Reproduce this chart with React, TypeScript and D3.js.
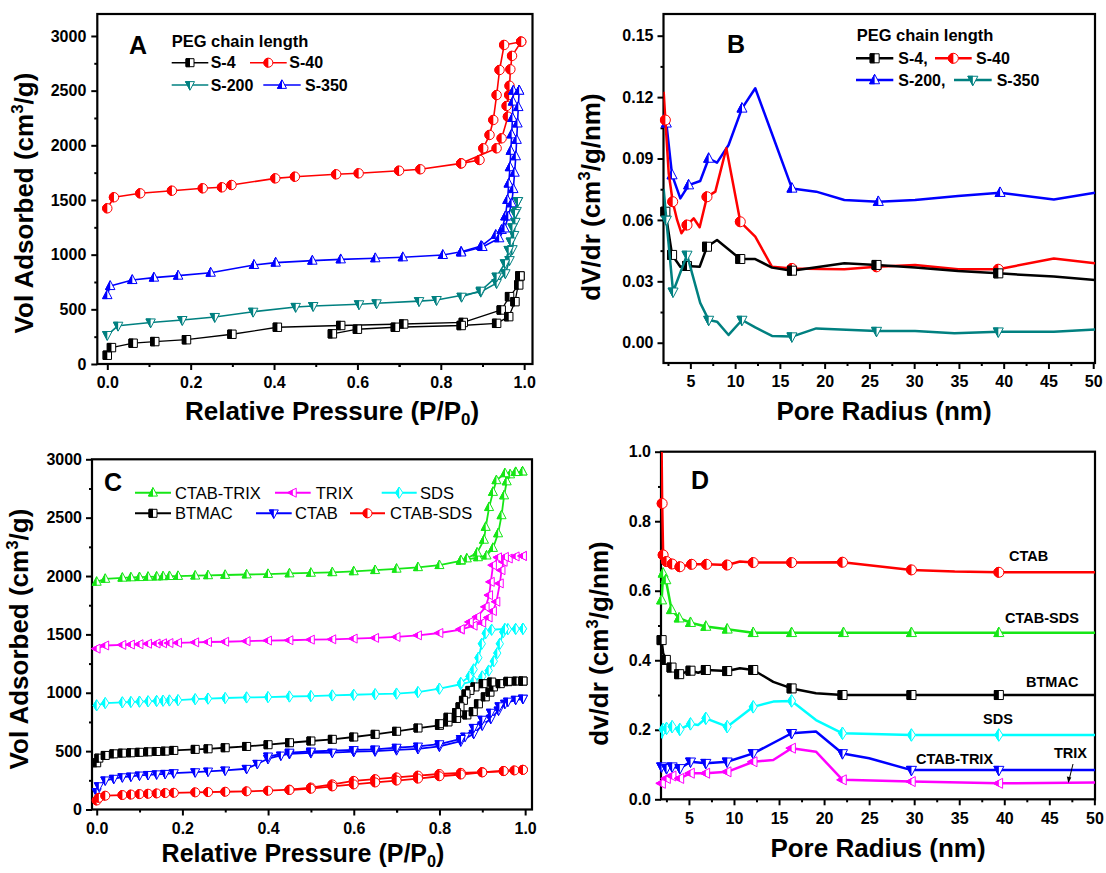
import React, { useEffect, useRef } from "react";
import * as d3 from "d3";

// ---------- Panel A : N2 isotherms, PEG chain length ----------
type P = [number, number];
type M = [number, number, number]; // r, value, 1 = symbol drawn

const s4Ads: P[] = [[0, 80], [0.01, 150], [0.062, 190], [0.114, 205], [0.19, 222], [0.299, 272], [0.408, 336], [0.56, 352], [0.711, 366], [0.854, 380], [0.945, 494], [0.965, 616], [0.987, 723], [0.99, 805]];
const s4Des: P[] = [[0.99, 805], [0.978, 570], [0.963, 433], [0.934, 372], [0.849, 352], [0.691, 336], [0.6, 318], [0.54, 276]];
const s40Ads: P[] = [[0, 1424], [0.016, 1525], [0.079, 1561], [0.155, 1585], [0.229, 1607], [0.275, 1616], [0.298, 1637], [0.403, 1698], [0.45, 1713], [0.549, 1735], [0.603, 1744], [0.7, 1768], [0.751, 1781], [0.849, 1835], [0.934, 1973], [0.946, 2064], [0.961, 2262], [0.958, 2360], [0.964, 2460], [0.965, 2545], [0.967, 2695], [0.971, 2818], [0.993, 2948]];
const s40Des: P[] = [[0.993, 2948], [0.952, 2918], [0.941, 2689], [0.934, 2460], [0.926, 2232], [0.917, 2095], [0.902, 1973], [0.893, 1866], [0.849, 1835]];
const s200Ads: P[] = [[0, 265], [0.026, 350], [0.104, 380], [0.18, 402], [0.258, 430], [0.35, 478], [0.452, 522], [0.494, 530], [0.604, 546], [0.646, 555], [0.748, 575], [0.79, 585], [0.896, 661], [0.934, 740], [0.955, 830], [0.965, 950], [0.972, 1050], [0.976, 1180], [0.979, 1300], [0.982, 1400], [0.985, 1490]];
const s200Des: P[] = [[0.985, 1490], [0.978, 1380], [0.972, 1250], [0.968, 1120], [0.963, 1043], [0.954, 921], [0.934, 799], [0.896, 670], [0.85, 615]];
const s350Ads: P[] = [[0, 630], [0.007, 713], [0.06, 768], [0.112, 790], [0.17, 808], [0.248, 835], [0.352, 906], [0.404, 927], [0.492, 945], [0.56, 957], [0.643, 967], [0.709, 976], [0.805, 997], [0.849, 1027], [0.897, 1079], [0.932, 1180], [0.946, 1226], [0.955, 1350], [0.96, 1500], [0.963, 1650], [0.966, 1800], [0.968, 1950], [0.97, 2100], [0.972, 2250], [0.973, 2400], [0.974, 2500], [0.988, 2500]];
const s350Des: P[] = [[0.988, 2500], [0.986, 2350], [0.984, 2200], [0.982, 2050], [0.98, 1900], [0.977, 1750], [0.974, 1600], [0.97, 1470], [0.962, 1350], [0.953, 1240], [0.94, 1150], [0.9, 1070], [0.849, 1020]];

// ---------- Panel B : pore size distribution, PEG ----------
const bS4: M[] = [[2.02, 0.066, 0], [2.21, 0.064, 1], [2.96, 0.0429, 1], [3.88, 0.0371, 0], [4.63, 0.0375, 1], [6.04, 0.0371, 0], [6.86, 0.0469, 1], [7.98, 0.0502, 0], [10.58, 0.0409, 1], [12.25, 0.0409, 0], [14.12, 0.0367, 0], [16.35, 0.0352, 1], [22.2, 0.0388, 0], [25.8, 0.038, 1], [30.1, 0.0367, 0], [34.9, 0.035, 0], [39.4, 0.0339, 1], [45.6, 0.0323, 0], [50.2, 0.0306, 0]];
const bS40: M[] = [[2.02, 0.1226, 0], [2.21, 0.1088, 1], [2.58, 0.0828, 0], [3.03, 0.0689, 1], [3.52, 0.06, 0], [4.0, 0.0535, 0], [4.63, 0.0575, 1], [5.37, 0.0608, 0], [6.04, 0.0564, 0], [6.86, 0.0713, 1], [7.79, 0.0738, 0], [9.02, 0.095, 0], [10.58, 0.0591, 1], [12.25, 0.0518, 0], [14.12, 0.0371, 0], [16.35, 0.0363, 1], [19.8, 0.036, 0], [22.2, 0.0359, 0], [25.8, 0.0371, 1], [30.1, 0.038, 0], [34.9, 0.0359, 0], [39.4, 0.0359, 1], [45.6, 0.0412, 0], [50.2, 0.0388, 0]];
const bS200: M[] = [[2.02, 0.112, 0], [2.32, 0.1072, 1], [2.96, 0.0819, 1], [3.88, 0.0705, 0], [4.81, 0.077, 1], [6.1, 0.079, 0], [7.05, 0.09, 1], [7.98, 0.088, 0], [9.27, 0.0966, 0], [10.77, 0.1145, 1], [12.25, 0.1243, 0], [14.3, 0.0999, 0], [16.35, 0.0754, 1], [19.06, 0.0738, 0], [22.2, 0.0697, 0], [26, 0.0689, 1], [30.1, 0.0697, 0], [34.9, 0.0717, 0], [39.6, 0.0733, 1], [45.6, 0.07, 0], [50.2, 0.0733, 0]];
const bS350: M[] = [[2.02, 0.075, 0], [2.32, 0.06, 1], [3.07, 0.0249, 1], [4.63, 0.0429, 1], [6.1, 0.0195, 0], [7.05, 0.0111, 1], [7.98, 0.0103, 0], [9.27, 0.0038, 0], [10.77, 0.0111, 1], [12.25, 0.0075, 0], [14.12, 0.0033, 0], [16.35, 0.003, 1], [19.06, 0.007, 0], [25.8, 0.0057, 1], [30.1, 0.0057, 0], [34.5, 0.0046, 0], [39.4, 0.0054, 1], [45.6, 0.0054, 0], [50.2, 0.0065, 0]];

// ---------- Panel C : isotherms, surfactants ----------
const ctabTrixAds: P[] = [[0, 1950], [0.02, 1975], [0.06, 1985], [0.08, 1988], [0.1, 1990], [0.12, 1993], [0.14, 1995], [0.155, 1997], [0.17, 1999], [0.19, 2000], [0.23, 2003], [0.26, 2006], [0.3, 2009], [0.35, 2013], [0.4, 2017], [0.45, 2022], [0.5, 2027], [0.55, 2032], [0.6, 2040], [0.65, 2050], [0.7, 2062], [0.75, 2075], [0.8, 2093], [0.85, 2130], [0.89, 2160], [0.91, 2175], [0.925, 2240], [0.937, 2365], [0.945, 2520], [0.951, 2690], [0.957, 2810], [0.965, 2870], [0.978, 2890], [0.994, 2895]];
const ctabTrixDes: P[] = [[0.994, 2895], [0.978, 2890], [0.953, 2880], [0.933, 2820], [0.925, 2720], [0.916, 2590], [0.908, 2420], [0.904, 2310], [0.888, 2200], [0.864, 2150], [0.85, 2135]];
const trixAds: P[] = [[0, 1378], [0.02, 1405], [0.06, 1410], [0.08, 1413], [0.1, 1416], [0.12, 1420], [0.14, 1422], [0.155, 1424], [0.17, 1426], [0.19, 1428], [0.23, 1432], [0.26, 1435], [0.3, 1437], [0.35, 1442], [0.4, 1447], [0.45, 1450], [0.5, 1455], [0.55, 1458], [0.6, 1464], [0.65, 1470], [0.7, 1478], [0.75, 1492], [0.8, 1512], [0.85, 1541], [0.88, 1575], [0.9, 1600], [0.915, 1645], [0.925, 1700], [0.933, 1780], [0.941, 1937], [0.945, 2050], [0.95, 2122], [0.962, 2150], [0.978, 2168], [0.995, 2172]];
const trixDes: P[] = [[0.995, 2172], [0.953, 2164], [0.937, 2160], [0.925, 2093], [0.92, 1950], [0.916, 1836], [0.908, 1736], [0.888, 1650], [0.871, 1607], [0.85, 1545]];
const sdsAds: P[] = [[0, 892], [0.02, 912], [0.06, 918], [0.08, 921], [0.1, 924], [0.12, 927], [0.14, 930], [0.155, 932], [0.17, 934], [0.19, 937], [0.23, 945], [0.26, 950], [0.3, 955], [0.35, 960], [0.4, 963], [0.45, 968], [0.5, 972], [0.55, 977], [0.6, 983], [0.65, 988], [0.7, 993], [0.75, 1006], [0.8, 1035], [0.85, 1073], [0.88, 1100], [0.9, 1140], [0.915, 1190], [0.927, 1270], [0.935, 1340], [0.941, 1420], [0.949, 1520], [0.96, 1545], [0.978, 1547], [0.995, 1548]];
const sdsDes: P[] = [[0.995, 1548], [0.953, 1547], [0.922, 1540], [0.908, 1510], [0.899, 1420], [0.891, 1300], [0.88, 1200], [0.87, 1140], [0.85, 1085]];
const btmacAds: P[] = [[0, 400], [0.005, 440], [0.02, 463], [0.04, 477], [0.06, 483], [0.08, 486], [0.1, 490], [0.12, 494], [0.14, 497], [0.16, 500], [0.18, 506], [0.23, 515], [0.26, 520], [0.3, 529], [0.35, 540], [0.4, 555], [0.45, 572], [0.5, 587], [0.55, 601], [0.6, 621], [0.65, 644], [0.7, 670], [0.75, 698], [0.8, 721], [0.82, 750], [0.84, 780], [0.864, 810], [0.879, 838], [0.891, 905], [0.907, 965], [0.918, 1005], [0.926, 1050], [0.942, 1078], [0.96, 1095], [0.98, 1100], [0.995, 1100]];
const btmacDes: P[] = [[0.995, 1100], [0.96, 1098], [0.922, 1092], [0.902, 1078], [0.883, 1050], [0.871, 1020], [0.862, 990], [0.856, 935], [0.848, 880], [0.84, 830], [0.82, 790], [0.8, 735]];
const ctabAds: P[] = [[0, 150], [0.005, 200], [0.02, 250], [0.04, 264], [0.06, 277], [0.08, 283], [0.1, 292], [0.12, 297], [0.14, 302], [0.16, 306], [0.18, 312], [0.23, 320], [0.26, 326], [0.3, 335], [0.35, 349], [0.375, 392], [0.4, 435], [0.43, 463], [0.45, 477], [0.5, 485], [0.55, 488], [0.6, 495], [0.65, 500], [0.7, 510], [0.75, 520], [0.8, 540], [0.85, 585], [0.88, 649], [0.9, 721], [0.92, 778], [0.938, 849], [0.953, 907], [0.978, 941], [0.995, 950]];
const ctabDes: P[] = [[0.995, 950], [0.96, 925], [0.94, 885], [0.92, 830], [0.9, 770], [0.88, 700], [0.86, 625], [0.85, 605], [0.8, 560], [0.75, 540], [0.7, 530], [0.65, 515], [0.6, 510], [0.5, 497], [0.45, 488], [0.4, 455]];
const ctabSdsAds: P[] = [[0, 77], [0.005, 100], [0.02, 118], [0.06, 124], [0.08, 128], [0.1, 132], [0.12, 135], [0.14, 138], [0.16, 141], [0.18, 143], [0.23, 147], [0.26, 149], [0.3, 152], [0.35, 156], [0.4, 161], [0.45, 170], [0.5, 188], [0.55, 215], [0.6, 245], [0.65, 260], [0.7, 275], [0.75, 290], [0.8, 304], [0.85, 314], [0.9, 320], [0.95, 329], [0.975, 335], [0.995, 340]];
const ctabSdsDes: P[] = [[0.995, 340], [0.95, 330], [0.9, 318], [0.85, 300], [0.8, 285], [0.75, 265], [0.7, 248], [0.65, 232], [0.6, 215], [0.55, 198], [0.5, 178], [0.45, 167]];

// ---------- Panel D : pore size distribution, surfactants ----------
const dCtab: M[] = [[1.97, 1.0, 0], [2.03, 0.851, 1], [2.14, 0.703, 1], [2.52, 0.684, 1], [3.14, 0.677, 1], [4.0, 0.669, 1], [5.3, 0.676, 1], [6.96, 0.676, 1], [9.25, 0.674, 1], [10.66, 0.684, 0], [12.14, 0.681, 1], [16.4, 0.681, 1], [22.05, 0.682, 1], [29.7, 0.66, 1], [34.5, 0.655, 0], [39.4, 0.653, 1], [50.07, 0.653, 0]];
const dCtabSds: M[] = [[1.97, 0.573, 1], [2.14, 0.65, 1], [2.44, 0.631, 1], [3.07, 0.545, 1], [3.92, 0.521, 1], [5.18, 0.508, 1], [6.88, 0.497, 1], [9.25, 0.489, 1], [12.14, 0.479, 1], [16.4, 0.479, 1], [22.16, 0.479, 1], [29.7, 0.479, 1], [39.4, 0.479, 1], [50.07, 0.479, 0]];
const dBtmac: M[] = [[1.97, 0.458, 1], [2.14, 0.42, 0], [2.44, 0.401, 1], [3.07, 0.379, 1], [3.92, 0.36, 1], [5.18, 0.37, 1], [6.03, 0.364, 0], [6.88, 0.372, 1], [9.25, 0.369, 1], [10.66, 0.377, 0], [12.14, 0.372, 1], [14.36, 0.338, 0], [16.4, 0.319, 1], [19.1, 0.305, 0], [22.05, 0.3, 1], [29.7, 0.3, 1], [39.4, 0.3, 1], [50.07, 0.3, 0]];
const dSds: M[] = [[1.97, 0.175, 0], [2.14, 0.201, 1], [2.52, 0.204, 1], [3.14, 0.209, 1], [4.0, 0.201, 1], [5.18, 0.217, 1], [6.03, 0.214, 0], [6.88, 0.233, 1], [9.25, 0.209, 1], [12.14, 0.266, 1], [14.36, 0.281, 0], [16.4, 0.283, 1], [19.1, 0.228, 0], [22.05, 0.19, 1], [29.7, 0.185, 1], [39.4, 0.185, 1], [50.07, 0.185, 0]];
const dCtabTrix: M[] = [[1.97, 0.094, 1], [2.14, 0.097, 0], [2.52, 0.089, 1], [3.14, 0.094, 1], [4.0, 0.089, 1], [5.18, 0.108, 1], [6.88, 0.104, 1], [9.25, 0.108, 1], [12.14, 0.132, 1], [16.4, 0.19, 1], [19.1, 0.195, 0], [22.05, 0.132, 1], [25, 0.118, 0], [29.7, 0.084, 1], [39.4, 0.084, 1], [50.07, 0.084, 0]];
const dTrix: M[] = [[1.97, 0.046, 1], [2.1, 0.06, 0], [2.52, 0.06, 1], [3.14, 0.067, 1], [4.0, 0.06, 1], [5.18, 0.075, 1], [6.88, 0.075, 1], [9.25, 0.079, 1], [12.14, 0.108, 1], [14.36, 0.113, 0], [16.4, 0.147, 1], [19.1, 0.137, 0], [22.05, 0.056, 1], [29.7, 0.051, 1], [39.4, 0.046, 1], [50.07, 0.048, 0]];

const isoTicks = [0, 0.2, 0.4, 0.6, 0.8, 1.0];
const volTicks = [0, 500, 1000, 1500, 2000, 2500, 3000];
const radTicks = [5, 10, 15, 20, 25, 30, 35, 40, 45, 50];
const bTicks = [0, 0.03, 0.06, 0.09, 0.12, 0.15];
const dTicks = [0, 0.2, 0.4, 0.6, 0.8, 1.0];

const FONT = "'Liberation Sans', Arial, Helvetica, sans-serif";
const GREEN = "#16e616";
const TEAL = "#008080";

function symbolPath(shape: string, h: number) {
  switch (shape) {
    case "square": return `M${-h},${-h}H${h}V${h}H${-h}Z`;
    case "circle": return `M${h},0A${h},${h} 0 1,1 ${-h},0A${h},${h} 0 1,1 ${h},0Z`;
    case "up": return `M0,${-h * 1.15}L${h},${h * 0.75}L${-h},${h * 0.75}Z`;
    case "down": return `M0,${h * 1.15}L${h},${-h * 0.75}L${-h},${-h * 0.75}Z`;
    case "left": return `M${-h * 1.15},0L${h * 0.75},${-h}L${h * 0.75},${h}Z`;
    default: return `M0,${-h * 1.25}L${h * 0.8},0L0,${h * 1.25}L${-h * 0.8},0Z`;
  }
}

function marker(g: any, cx: number, cy: number, shape: string, color: string, h: number) {
  const m = g.append("g").attr("transform", `translate(${cx},${cy})`);
  const d = symbolPath(shape, h);
  m.append("path").attr("d", d).attr("fill", "#fff").attr("stroke", color).attr("stroke-width", 1);
  m.append("path").attr("d", d).attr("fill", color).attr("stroke", color).attr("stroke-width", 1).attr("clip-path", "url(#lhalf)");
}

function rich(g: any, x: number, y: number, fs: number, parts: [string, string?][], rotate = false, anchor = "middle", weight = "bold") {
  const t = g.append("text")
    .attr("x", x).attr("y", y)
    .attr("text-anchor", anchor)
    .attr("font-family", FONT)
    .attr("font-size", fs)
    .attr("font-weight", weight);
  if (rotate) t.attr("transform", `rotate(-90,${x},${y})`);
  let shift = 0;
  parts.forEach(([s, kind]) => {
    const sp = t.append("tspan").text(s);
    if (kind === "sup") {
      sp.attr("font-size", fs * 0.65).attr("dy", -fs * 0.4 - shift);
      shift = -fs * 0.4;
    } else if (kind === "sub") {
      sp.attr("font-size", fs * 0.65).attr("dy", fs * 0.2 - shift);
      shift = fs * 0.2;
    } else if (shift !== 0) {
      sp.attr("dy", -shift);
      shift = 0;
    }
  });
  return t;
}

function frame(svg: any, id: string, c: any) {
  const x = d3.scaleLinear().domain(c.xDom).range(c.xR);
  const y = d3.scaleLinear().domain(c.yDom).range(c.yR);
  const g = svg.append("g");
  const [l, r] = c.xR;
  const [b, t] = c.yR;
  g.append("clipPath").attr("id", id).append("rect").attr("x", l).attr("y", t).attr("width", r - l).attr("height", b - t);

  const style = (a: any) => {
    a.select(".domain").remove();
    a.selectAll("line").attr("stroke", "#000").attr("stroke-width", 2);
    a.selectAll("text").attr("font-family", FONT).attr("font-size", 16).attr("font-weight", "bold").attr("fill", "#000");
  };
  g.append("g").attr("transform", `translate(0,${b})`)
    .call(d3.axisBottom(x).tickValues(c.xMinor).tickSize(3).tickFormat(() => "")).call(style);
  g.append("g").attr("transform", `translate(0,${b})`)
    .call(d3.axisBottom(x).tickValues(c.xTicks).tickSize(6).tickPadding(7).tickFormat(d3.format(c.xFmt))).call(style);
  g.append("g").attr("transform", `translate(${l},0)`)
    .call(d3.axisLeft(y).tickValues(c.yMinor).tickSize(3).tickFormat(() => "")).call(style);
  g.append("g").attr("transform", `translate(${l},0)`)
    .call(d3.axisLeft(y).tickValues(c.yTicks).tickSize(6).tickPadding(c.yPad).tickFormat(d3.format(c.yFmt))).call(style);
  g.append("rect").attr("x", l).attr("y", t).attr("width", r - l).attr("height", b - t)
    .attr("fill", "none").attr("stroke", "#000").attr("stroke-width", 2.2);
  return { g, x, y };
}

function midTicks(ticks: number[], step: number, lo: number, hi: number) {
  const out: number[] = [];
  ticks.forEach((v) => { [v - step, v + step].forEach((m) => { if (m > lo && m < hi && !out.includes(m)) out.push(m); }); });
  return out;
}

function isoSeries(g: any, x: any, y: any, clip: string, branches: P[][], shape: string, color: string, lw: number, h: number) {
  const line = d3.line<P>().x((d) => x(d[0])).y((d) => y(d[1]));
  branches.forEach((br) => {
    g.append("path").attr("d", line(br)).attr("fill", "none").attr("stroke", color).attr("stroke-width", lw)
      .attr("stroke-linejoin", "round").attr("clip-path", `url(#${clip})`);
  });
  branches.forEach((br) => br.forEach((d) => marker(g, x(d[0]), y(d[1]), shape, color, h)));
}

function psdSeries(g: any, x: any, y: any, clip: string, pts: M[], shape: string, color: string, lw: number, h: number) {
  const line = d3.line<M>().x((d) => x(d[0])).y((d) => y(d[1]));
  g.append("path").attr("d", line(pts)).attr("fill", "none").attr("stroke", color).attr("stroke-width", lw)
    .attr("stroke-linejoin", "round").attr("clip-path", `url(#${clip})`);
  pts.filter((d) => d[2] === 1).forEach((d) => marker(g, x(d[0]), y(d[1]), shape, color, h));
}

function legendItem(g: any, x1: number, x2: number, y: number, shape: string, color: string, h: number, lw: number,
  label: string, tx: number, fs: number, weight: string) {
  g.append("line").attr("x1", x1).attr("x2", x2).attr("y1", y).attr("y2", y).attr("stroke", color).attr("stroke-width", lw);
  marker(g, (x1 + x2) / 2, y, shape, color, h);
  g.append("text").attr("x", tx).attr("y", y + fs * 0.36).attr("font-family", FONT).attr("font-size", fs)
    .attr("font-weight", weight).text(label);
}

function label(g: any, x: number, y: number, s: string, fs: number, weight = "bold", anchor = "start") {
  g.append("text").attr("x", x).attr("y", y).attr("font-family", FONT).attr("font-size", fs)
    .attr("font-weight", weight).attr("text-anchor", anchor).text(s);
}

export default function App() {
  const ref = useRef<SVGSVGElement>(null);

  useEffect(() => {
    const svg = d3.select(ref.current);
    svg.selectAll("*").remove();
    svg.append("rect").attr("width", 1106).attr("height", 873).attr("fill", "#fff");
    svg.append("defs").append("clipPath").attr("id", "lhalf").attr("clipPathUnits", "userSpaceOnUse")
      .append("rect").attr("x", -30).attr("y", -30).attr("width", 30).attr("height", 60);

    // ----- A -----
    const A = frame(svg, "clipA", {
      xDom: [-0.024, 1.02], xR: [97.3, 532.5], yDom: [0, 3201], yR: [364, 14],
      xTicks: isoTicks, xMinor: midTicks(isoTicks, 0.1, -0.02, 1.02), yTicks: volTicks,
      yMinor: midTicks(volTicks, 250, 0, 3200), xFmt: ".1f", yFmt: "d", yPad: 5,
    });
    isoSeries(A.g, A.x, A.y, "clipA", [s40Ads, s40Des], "circle", "#ff0000", 1.6, 4.7);
    isoSeries(A.g, A.x, A.y, "clipA", [s350Ads, s350Des], "up", "#0000ff", 1.6, 4.7);
    isoSeries(A.g, A.x, A.y, "clipA", [s200Ads, s200Des], "down", TEAL, 1.6, 4.7);
    isoSeries(A.g, A.x, A.y, "clipA", [s4Ads, s4Des], "square", "#000", 1.3, 4.2);
    label(svg, 129, 54, "A", 25);
    label(svg, 171.7, 47, "PEG chain length", 16.5);
    legendItem(svg, 171.7, 208.3, 62.7, "square", "#000", 4, 1.6, "S-4", 210.7, 16, "bold");
    legendItem(svg, 250, 286.7, 62.7, "circle", "#ff0000", 4.5, 1.6, "S-40", 289.3, 16, "bold");
    legendItem(svg, 171.7, 208.3, 85, "down", TEAL, 4.5, 1.6, "S-200", 210.7, 16, "bold");
    legendItem(svg, 263.3, 300.7, 85, "up", "#0000ff", 4.5, 1.6, "S-350", 305, 16, "bold");
    rich(svg, 33, 203, 26, [["Vol Adsorbed (cm"], ["3", "sup"], ["/g)"]], true);
    rich(svg, 332, 420, 26, [["Relative Pressure (P/P"], ["0", "sub"], [")"]]);

    // ----- B -----
    const B = frame(svg, "clipB", {
      xDom: [2, 50.2], xR: [663.5, 1095], yDom: [-0.0099, 0.1606], yR: [363, 14],
      xTicks: radTicks, xMinor: midTicks(radTicks, 2.5, 2, 50.2), yTicks: bTicks,
      yMinor: midTicks(bTicks, 0.015, -0.009, 0.16), xFmt: "d", yFmt: ".2f", yPad: 4,
    });
    psdSeries(B.g, B.x, B.y, "clipB", bS200, "up", "#0000ff", 2.5, 5);
    psdSeries(B.g, B.x, B.y, "clipB", bS40, "circle", "#ff0000", 2.5, 5);
    psdSeries(B.g, B.x, B.y, "clipB", bS4, "square", "#000", 2.5, 4.5);
    psdSeries(B.g, B.x, B.y, "clipB", bS350, "down", TEAL, 2.5, 5);
    label(svg, 727, 53, "B", 25);
    label(svg, 856.7, 41, "PEG chain length", 16.5);
    legendItem(svg, 856, 893.3, 58.3, "square", "#000", 4.5, 2.5, "S-4,", 898.3, 16, "bold");
    legendItem(svg, 935, 971.7, 58.3, "circle", "#ff0000", 5, 2.5, "S-40", 976, 16, "bold");
    legendItem(svg, 856, 893.3, 80, "up", "#0000ff", 5, 2.5, "S-200,", 898.3, 16, "bold");
    legendItem(svg, 954, 991.7, 80, "down", TEAL, 5, 2.5, "S-350", 996.7, 16, "bold");
    rich(svg, 600, 197, 26, [["dV/dr (cm"], ["3", "sup"], ["/g/nm)"]], true);
    rich(svg, 884, 420, 26, [["Pore Radius (nm)"]]);

    // ----- C -----
    const C = frame(svg, "clipC", {
      xDom: [-0.011, 1.016], xR: [92, 532], yDom: [0, 3000], yR: [809.5, 459.3],
      xTicks: isoTicks, xMinor: midTicks(isoTicks, 0.1, -0.011, 1.016), yTicks: volTicks,
      yMinor: midTicks(volTicks, 250, 0, 3000), xFmt: ".1f", yFmt: "d", yPad: 4,
    });
    isoSeries(C.g, C.x, C.y, "clipC", [ctabTrixAds, ctabTrixDes], "up", GREEN, 1.8, 4.5);
    isoSeries(C.g, C.x, C.y, "clipC", [trixAds, trixDes], "left", "#ff00ff", 1.8, 4.5);
    isoSeries(C.g, C.x, C.y, "clipC", [sdsAds, sdsDes], "diamond", "#00ffff", 1.8, 4.5);
    isoSeries(C.g, C.x, C.y, "clipC", [btmacAds, btmacDes], "square", "#000", 1.8, 4);
    isoSeries(C.g, C.x, C.y, "clipC", [ctabAds, ctabDes], "down", "#0000ff", 1.8, 4.5);
    isoSeries(C.g, C.x, C.y, "clipC", [ctabSdsAds, ctabSdsDes], "circle", "#ff0000", 1.8, 4.5);
    label(svg, 104, 491, "C", 25);
    legendItem(svg, 135, 171, 492.7, "up", GREEN, 4.5, 2, "CTAB-TRIX", 175, 16.5, "normal");
    legendItem(svg, 275, 310.7, 492.7, "left", "#ff00ff", 4.5, 2, "TRIX", 315.7, 16.5, "normal");
    legendItem(svg, 381.7, 416.7, 492.7, "diamond", "#00ffff", 4.5, 2, "SDS", 420, 16.5, "normal");
    legendItem(svg, 135, 171, 513.3, "square", "#000", 4, 2, "BTMAC", 175, 16.5, "normal");
    legendItem(svg, 256, 291.7, 513.3, "down", "#0000ff", 4.5, 2, "CTAB", 295, 16.5, "normal");
    legendItem(svg, 350, 385, 513.3, "circle", "#ff0000", 4.5, 2, "CTAB-SDS", 390, 16.5, "normal");
    rich(svg, 28, 639, 26, [["Vol Adsorbed (cm"], ["3", "sup"], ["/g)"]], true);
    rich(svg, 303, 862, 25, [["Relative Pressure (P/P"], ["0", "sub"], [")"]]);

    // ----- D -----
    const D = frame(svg, "clipD", {
      xDom: [1.9, 50.07], xR: [661, 1095], yDom: [0, 1], yR: [799.3, 451.7],
      xTicks: radTicks, xMinor: midTicks(radTicks, 2.5, 1.9, 50.07), yTicks: dTicks,
      yMinor: midTicks(dTicks, 0.1, 0, 1), xFmt: "d", yFmt: ".1f", yPad: 4,
    });
    psdSeries(D.g, D.x, D.y, "clipD", dCtab, "circle", "#ff0000", 2.5, 5);
    psdSeries(D.g, D.x, D.y, "clipD", dCtabSds, "up", GREEN, 2.5, 5);
    psdSeries(D.g, D.x, D.y, "clipD", dBtmac, "square", "#000", 2.5, 4.5);
    psdSeries(D.g, D.x, D.y, "clipD", dSds, "diamond", "#00ffff", 2.5, 5);
    psdSeries(D.g, D.x, D.y, "clipD", dCtabTrix, "down", "#0000ff", 2.5, 5);
    psdSeries(D.g, D.x, D.y, "clipD", dTrix, "left", "#ff00ff", 2.5, 5);
    label(svg, 691, 489, "D", 25);
    label(svg, 1009, 561, "CTAB", 14.5);
    label(svg, 1005, 623, "CTAB-SDS", 14.5);
    label(svg, 1026, 687, "BTMAC", 14.5);
    label(svg, 983, 724, "SDS", 14.5);
    label(svg, 916, 764, "CTAB-TRIX", 14.5);
    label(svg, 1054, 758, "TRIX", 14.5);
    svg.append("line").attr("x1", 1073).attr("y1", 764).attr("x2", 1069.5).attr("y2", 778).attr("stroke", "#000").attr("stroke-width", 1);
    svg.append("path").attr("d", "M1068.4,783L1066.8,776.5L1071.3,777.6Z").attr("fill", "#000");
    rich(svg, 608, 643.5, 26, [["dv/dr (cm"], ["3", "sup"], ["/g/nm)"]], true);
    rich(svg, 878, 857, 26, [["Pore Radius (nm)"]]);
  }, []);

  return (
    <svg ref={ref} width={1106} height={873}
      style={{ position: "absolute", left: 0, top: 0, background: "#fff" }} />
  );
}
